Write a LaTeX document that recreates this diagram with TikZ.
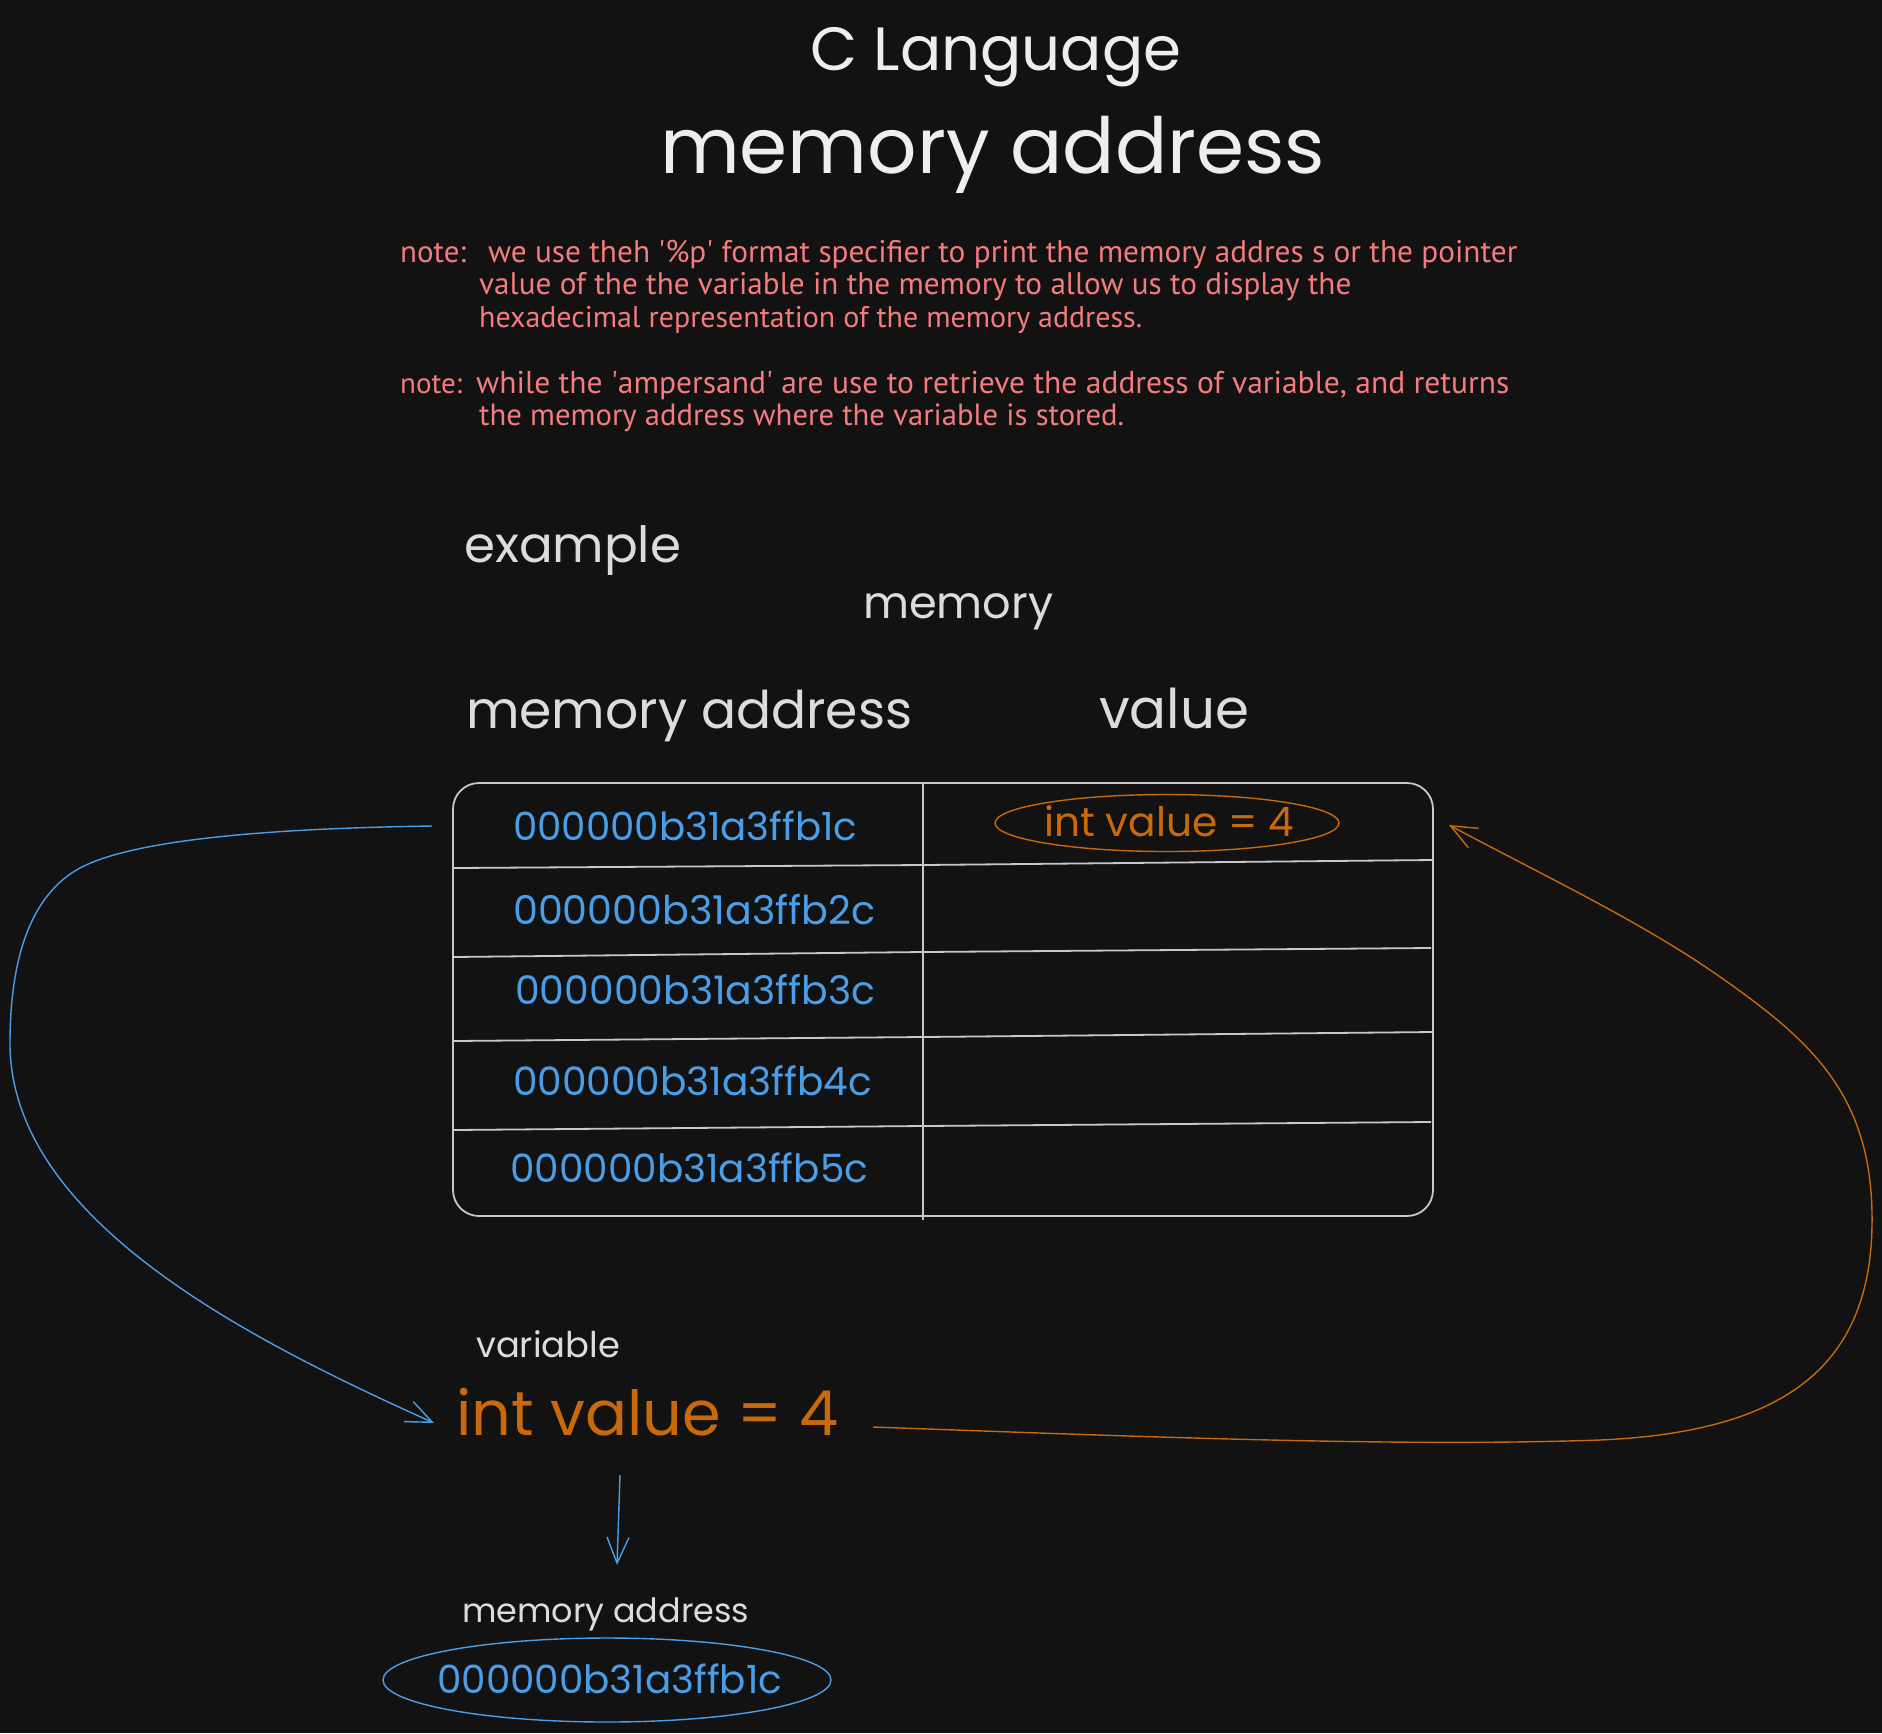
\documentclass[tikz,border=0pt]{standalone}
\usepackage{fontspec}
\usepackage{graphicx}
\usetikzlibrary{arrows.meta,shapes.geometric}
\newfontfamily\hand{Poppins}
\newfontfamily\notefont{PT Sans}
\definecolor{bg}{HTML}{121212}
\definecolor{ink}{HTML}{EEEEEE}
\definecolor{ink2}{HTML}{DCDCDC}
\definecolor{blu}{HTML}{4A9EE8}
\definecolor{org}{HTML}{C8690A}
\definecolor{notecol}{HTML}{F47C7C}
\definecolor{gridcol}{HTML}{C8C8C8}
\newcommand{\fitw}[2]{\resizebox{#1pt}{!}{#2}}
\begin{document}
\begin{tikzpicture}[x=1pt,y=-1pt,
  txt/.style={inner sep=0pt, anchor=base west},
  notetxt/.style={txt, text=notecol, font=\notefont},
  headtxt/.style={txt, text=ink2, font=\hand},
  addrtxt/.style={txt, text=blu, font=\hand},
  gridline/.style={draw=gridcol, line width=1.8pt},
  barb/.style={-{Straight Barb[length=26pt, width=22pt, line width=1.4pt]}},
  link/.style={line width=1.4pt}]
\fill[bg] (0,0) rectangle (1882,1733);
\useasboundingbox (0,0) rectangle (1882,1733);

% titles
\node[txt, text=ink, font=\hand] (title1) at (810,70) {\fitw{371}{C Language}};
\node[txt, text=ink, font=\hand] (title2) at (660,173) {\fitw{665}{memory address}};

% notes
\node[notetxt] (n1a) at (400,262) {\fitw{66}{note:}};
\node[notetxt] (n1b) at (488,262) {\fitw{1029}{we use theh \textquotesingle\%p\textquotesingle\ format specifier to print the memory addres s or the pointer}};
\node[notetxt] (n2) at (479,294) {\fitw{872}{value of the the variable in the memory to allow us to display the}};
\node[notetxt] (n3) at (479,327) {\fitw{663}{hexadecimal representation of the memory address.}};
\node[notetxt] (n4a) at (400,393) {\fitw{62}{note:}};
\node[notetxt] (n4b) at (476,393) {\fitw{1033}{while the \textquotesingle ampersand\textquotesingle\ are use to retrieve the address of variable, and returns}};
\node[notetxt] (n5) at (479,425) {\fitw{645}{the memory address where the variable is stored.}};

% headings
\node[headtxt] (example) at (464,562) {\fitw{217}{example}};
\node[headtxt] (memory) at (863,618) {\fitw{190}{memory}};
\node[headtxt] (colA) at (466,728) {\fitw{446}{memory address}};
\node[headtxt] (colB) at (1099,728) {\fitw{150}{value}};

% table
\node[draw=gridcol, line width=1.8pt, rounded corners=26pt, minimum width=980pt, minimum height=433pt, inner sep=0pt] (table) at (943,999.5) {};
\draw[gridline] (453,868) -- (923,865) -- (1433,860);
\draw[gridline] (453,957) -- (923,952) -- (1431,948);
\draw[gridline] (453,1041) -- (923,1037) -- (1433,1032);
\draw[gridline] (453,1130) -- (923,1126) -- (1431,1122);
\draw[draw=gridcol, line width=1.4pt] (923,783) -- (923,1220);

\node[addrtxt] (a1) at (513,840) {\fitw{344}{000000b31a3ffb1c}};
\node[addrtxt] (a2) at (513,924) {\fitw{362}{000000b31a3ffb2c}};
\node[addrtxt] (a3) at (515,1004) {\fitw{360}{000000b31a3ffb3c}};
\node[addrtxt] (a4) at (513,1095) {\fitw{359}{000000b31a3ffb4c}};
\node[addrtxt] (a5) at (510,1182) {\fitw{358}{000000b31a3ffb5c}};

% value cell
\node[draw=org, line width=1.4pt, ellipse, minimum width=344pt, minimum height=57pt, inner sep=0pt] (cell) at (1167,823) {};
\node[txt, text=org, font=\hand] (cellval) at (1044,836) {\fitw{250}{int value = 4}};

% variable
\node[headtxt] (varlbl) at (476,1357) {\fitw{144}{variable}};
\node[txt, text=org, font=\hand] (var) at (456,1435) {\fitw{382}{int value = 4}};

% memory address result
\node[headtxt] (addrlbl) at (462,1622) {\fitw{287}{memory address}};
\node[draw=blu, line width=1.4pt, ellipse, minimum width=448pt, minimum height=84pt, inner sep=0pt] (addr) at (607,1680) {};
\node[addrtxt] (addrval) at (437,1693) {\fitw{345}{000000b31a3ffb1c}};

% connectors
\coordinate (bstart) at (432,826);
\coordinate (bbend) at (80,868);
\coordinate (bleft) at (10,1043);
\coordinate (btip) at (434,1423);
\coordinate (ostart) at (873,1427);
\coordinate (obot) at (1600,1440);
\coordinate (oright) at (1872,1225);
\coordinate (oup) at (1733,986);
\coordinate (otip) at (1449,825);
\coordinate (dstart) at (620,1475);
\coordinate (dtip) at (617,1565);

\draw[blu, link, barb] (bstart) .. controls (300,828) and (140,836) .. (bbend)
  .. controls (30,895) and (10,960) .. (bleft)
  .. controls (10,1220) and (250,1340) .. (btip);
\draw[org, link, barb] (ostart) .. controls (1150,1437) and (1400,1447) .. (obot)
  .. controls (1780,1432) and (1870,1370) .. (oright)
  .. controls (1874,1100) and (1815,1045) .. (oup)
  .. controls (1650,926) and (1560,884) .. (otip);
\draw[blu, link, barb] (dstart) -- (dtip);
\end{tikzpicture}
\end{document}
